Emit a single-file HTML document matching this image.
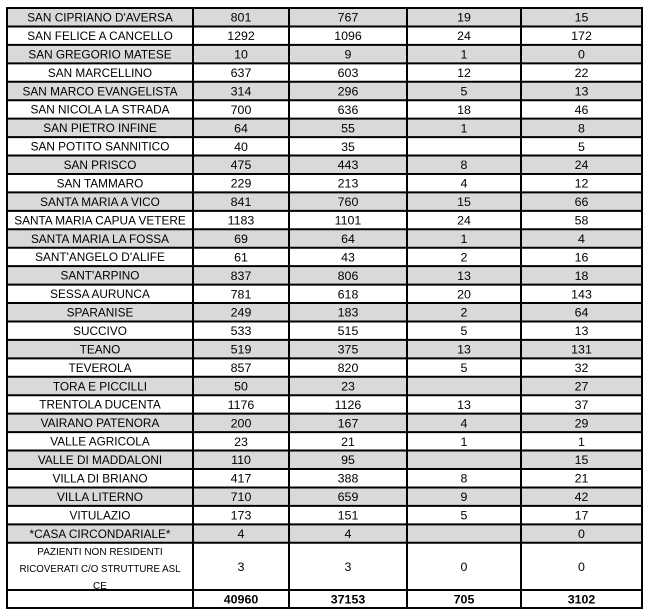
<!DOCTYPE html>
<html><head><meta charset="utf-8"><style>
html,body{margin:0;padding:0;background:#fff;width:647px;height:613px;overflow:hidden}
svg{display:block}
text{font-family:"Liberation Sans",sans-serif;font-size:12.4px;fill:#000;text-anchor:middle}
text.m{font-size:11.8px}
</style></head><body>
<svg width="647" height="613" viewBox="0 0 647 613">
<defs><clipPath id="tc"><rect x="7" y="543" width="186" height="46"/></clipPath></defs>
<g fill="#d9d9d9">
<rect x="7" y="8" width="635" height="18.44"/>
<rect x="7" y="44.88" width="635" height="18.44"/>
<rect x="7" y="81.76" width="635" height="18.44"/>
<rect x="7" y="118.64" width="635" height="18.44"/>
<rect x="7" y="155.52" width="635" height="18.44"/>
<rect x="7" y="192.40" width="635" height="18.44"/>
<rect x="7" y="229.28" width="635" height="18.44"/>
<rect x="7" y="266.16" width="635" height="18.44"/>
<rect x="7" y="303.04" width="635" height="18.44"/>
<rect x="7" y="339.92" width="635" height="18.44"/>
<rect x="7" y="376.80" width="635" height="18.44"/>
<rect x="7" y="413.68" width="635" height="18.44"/>
<rect x="7" y="450.56" width="635" height="18.44"/>
<rect x="7" y="487.44" width="635" height="18.44"/>
<rect x="7" y="524.32" width="635" height="18.44"/>
</g>
<g transform="translate(0,8)"><text class="m" x="100" y="13.5">SAN CIPRIANO D'AVERSA</text><text x="241" y="13.7">801</text><text x="348" y="13.7">767</text><text x="464" y="13.7">19</text><text x="581.5" y="13.7">15</text></g>
<g transform="translate(0,26.44)"><text class="m" x="100" y="13.5">SAN FELICE A CANCELLO</text><text x="241" y="13.7">1292</text><text x="348" y="13.7">1096</text><text x="464" y="13.7">24</text><text x="581.5" y="13.7">172</text></g>
<g transform="translate(0,44.88)"><text class="m" x="100" y="13.5">SAN GREGORIO MATESE</text><text x="241" y="13.7">10</text><text x="348" y="13.7">9</text><text x="464" y="13.7">1</text><text x="581.5" y="13.7">0</text></g>
<g transform="translate(0,63.32)"><text class="m" x="100" y="13.5">SAN MARCELLINO</text><text x="241" y="13.7">637</text><text x="348" y="13.7">603</text><text x="464" y="13.7">12</text><text x="581.5" y="13.7">22</text></g>
<g transform="translate(0,81.76)"><text class="m" x="100" y="13.5">SAN MARCO EVANGELISTA</text><text x="241" y="13.7">314</text><text x="348" y="13.7">296</text><text x="464" y="13.7">5</text><text x="581.5" y="13.7">13</text></g>
<g transform="translate(0,100.20)"><text class="m" x="100" y="13.5">SAN NICOLA LA STRADA</text><text x="241" y="13.7">700</text><text x="348" y="13.7">636</text><text x="464" y="13.7">18</text><text x="581.5" y="13.7">46</text></g>
<g transform="translate(0,118.64)"><text class="m" x="100" y="13.5">SAN PIETRO INFINE</text><text x="241" y="13.7">64</text><text x="348" y="13.7">55</text><text x="464" y="13.7">1</text><text x="581.5" y="13.7">8</text></g>
<g transform="translate(0,137.08)"><text class="m" x="100" y="13.5">SAN POTITO SANNITICO</text><text x="241" y="13.7">40</text><text x="348" y="13.7">35</text><text x="581.5" y="13.7">5</text></g>
<g transform="translate(0,155.52)"><text class="m" x="100" y="13.5">SAN PRISCO</text><text x="241" y="13.7">475</text><text x="348" y="13.7">443</text><text x="464" y="13.7">8</text><text x="581.5" y="13.7">24</text></g>
<g transform="translate(0,173.96)"><text class="m" x="100" y="13.5">SAN TAMMARO</text><text x="241" y="13.7">229</text><text x="348" y="13.7">213</text><text x="464" y="13.7">4</text><text x="581.5" y="13.7">12</text></g>
<g transform="translate(0,192.40)"><text class="m" x="100" y="13.5">SANTA MARIA A VICO</text><text x="241" y="13.7">841</text><text x="348" y="13.7">760</text><text x="464" y="13.7">15</text><text x="581.5" y="13.7">66</text></g>
<g transform="translate(0,210.84)"><text class="m" x="100" y="13.5">SANTA MARIA CAPUA VETERE</text><text x="241" y="13.7">1183</text><text x="348" y="13.7">1101</text><text x="464" y="13.7">24</text><text x="581.5" y="13.7">58</text></g>
<g transform="translate(0,229.28)"><text class="m" x="100" y="13.5">SANTA MARIA LA FOSSA</text><text x="241" y="13.7">69</text><text x="348" y="13.7">64</text><text x="464" y="13.7">1</text><text x="581.5" y="13.7">4</text></g>
<g transform="translate(0,247.72)"><text class="m" x="100" y="13.5">SANT'ANGELO D'ALIFE</text><text x="241" y="13.7">61</text><text x="348" y="13.7">43</text><text x="464" y="13.7">2</text><text x="581.5" y="13.7">16</text></g>
<g transform="translate(0,266.16)"><text class="m" x="100" y="13.5">SANT'ARPINO</text><text x="241" y="13.7">837</text><text x="348" y="13.7">806</text><text x="464" y="13.7">13</text><text x="581.5" y="13.7">18</text></g>
<g transform="translate(0,284.60)"><text class="m" x="100" y="13.5">SESSA AURUNCA</text><text x="241" y="13.7">781</text><text x="348" y="13.7">618</text><text x="464" y="13.7">20</text><text x="581.5" y="13.7">143</text></g>
<g transform="translate(0,303.04)"><text class="m" x="100" y="13.5">SPARANISE</text><text x="241" y="13.7">249</text><text x="348" y="13.7">183</text><text x="464" y="13.7">2</text><text x="581.5" y="13.7">64</text></g>
<g transform="translate(0,321.48)"><text class="m" x="100" y="13.5">SUCCIVO</text><text x="241" y="13.7">533</text><text x="348" y="13.7">515</text><text x="464" y="13.7">5</text><text x="581.5" y="13.7">13</text></g>
<g transform="translate(0,339.92)"><text class="m" x="100" y="13.5">TEANO</text><text x="241" y="13.7">519</text><text x="348" y="13.7">375</text><text x="464" y="13.7">13</text><text x="581.5" y="13.7">131</text></g>
<g transform="translate(0,358.36)"><text class="m" x="100" y="13.5">TEVEROLA</text><text x="241" y="13.7">857</text><text x="348" y="13.7">820</text><text x="464" y="13.7">5</text><text x="581.5" y="13.7">32</text></g>
<g transform="translate(0,376.80)"><text class="m" x="100" y="13.5">TORA E PICCILLI</text><text x="241" y="13.7">50</text><text x="348" y="13.7">23</text><text x="581.5" y="13.7">27</text></g>
<g transform="translate(0,395.24)"><text class="m" x="100" y="13.5">TRENTOLA DUCENTA</text><text x="241" y="13.7">1176</text><text x="348" y="13.7">1126</text><text x="464" y="13.7">13</text><text x="581.5" y="13.7">37</text></g>
<g transform="translate(0,413.68)"><text class="m" x="100" y="13.5">VAIRANO PATENORA</text><text x="241" y="13.7">200</text><text x="348" y="13.7">167</text><text x="464" y="13.7">4</text><text x="581.5" y="13.7">29</text></g>
<g transform="translate(0,432.12)"><text class="m" x="100" y="13.5">VALLE AGRICOLA</text><text x="241" y="13.7">23</text><text x="348" y="13.7">21</text><text x="464" y="13.7">1</text><text x="581.5" y="13.7">1</text></g>
<g transform="translate(0,450.56)"><text class="m" x="100" y="13.5">VALLE DI MADDALONI</text><text x="241" y="13.7">110</text><text x="348" y="13.7">95</text><text x="581.5" y="13.7">15</text></g>
<g transform="translate(0,469.00)"><text class="m" x="100" y="13.5">VILLA DI BRIANO</text><text x="241" y="13.7">417</text><text x="348" y="13.7">388</text><text x="464" y="13.7">8</text><text x="581.5" y="13.7">21</text></g>
<g transform="translate(0,487.44)"><text class="m" x="100" y="13.5">VILLA LITERNO</text><text x="241" y="13.7">710</text><text x="348" y="13.7">659</text><text x="464" y="13.7">9</text><text x="581.5" y="13.7">42</text></g>
<g transform="translate(0,505.88)"><text class="m" x="100" y="13.5">VITULAZIO</text><text x="241" y="13.7">173</text><text x="348" y="13.7">151</text><text x="464" y="13.7">5</text><text x="581.5" y="13.7">17</text></g>
<g transform="translate(0,524.32)"><text class="m" x="100" y="13.5">*CASA CIRCONDARIALE*</text><text x="241" y="13.7">4</text><text x="348" y="13.7">4</text><text x="581.5" y="13.7">0</text></g>
<g clip-path="url(#tc)">
<text x="100" y="554.8" style="font-size:10px">PAZIENTI NON RESIDENTI</text>
<text x="100" y="571.8" style="font-size:10px" textLength="161" lengthAdjust="spacingAndGlyphs">RICOVERATI C/O STRUTTURE ASL</text>
<text x="100" y="588.8" style="font-size:10px">CE</text>
</g>
<g transform="translate(0,557.5)"><text x="241" y="13.7">3</text><text x="348" y="13.7">3</text><text x="464" y="13.7">0</text><text x="581.5" y="13.7">0</text></g>
<g transform="translate(0,590)"><text x="241" y="13.7" font-weight="bold">40960</text><text x="348" y="13.7" font-weight="bold">37153</text><text x="464" y="13.7" font-weight="bold">705</text><text x="581.5" y="13.7" font-weight="bold">3102</text></g>
<g stroke="#000" stroke-width="2" fill="none">
<path d="M6 8H643M6 26.44H643M6 44.88H643M6 63.32H643M6 81.76H643M6 100.2H643M6 118.64H643M6 137.08H643M6 155.52H643M6 173.96H643M6 192.4H643M6 210.84H643M6 229.28H643M6 247.72H643M6 266.16H643M6 284.6H643M6 303.04H643M6 321.48H643M6 339.92H643M6 358.36H643M6 376.8H643M6 395.24H643M6 413.68H643M6 432.12H643M6 450.56H643M6 469H643M6 487.44H643M6 505.88H643M6 524.32H643M6 542.76H643M6 590H643M6 608H643"/>
<path d="M7 7V609M193 7V609M289 7V609M407 7V609M521 7V609M642 7V609"/>
</g>
</svg>
</body></html>
